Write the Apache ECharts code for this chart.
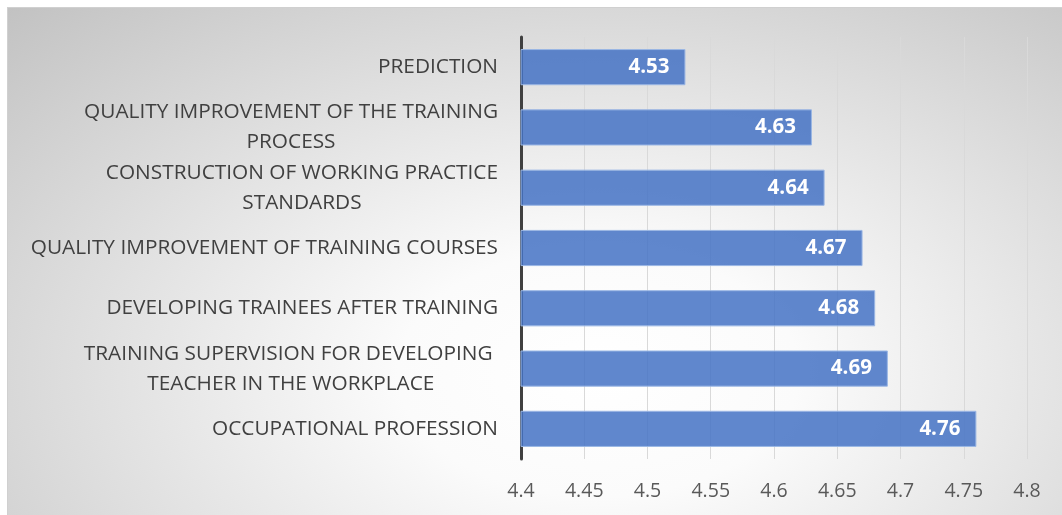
<!DOCTYPE html>
<html>
<head>
<meta charset="utf-8">
<script src="https://cdn.jsdelivr.net/npm/echarts@6/dist/echarts.min.js"></script>
<style>
  html, body { margin: 0; padding: 0; background: #fff; }
  #wrap {
    position: absolute; left: 7px; top: 7px; width: 1055px; height: 508px;
    border-top: 1px solid #d0d0d0; border-left: 1px solid #d0d0d0;
    box-sizing: border-box;
    background: radial-gradient(ellipse farthest-corner at 56% 72%, #ffffff 0%, #fbfbfb 24%, #c2c2c2 100%);
  }
  #chart { position: absolute; left: -8px; top: -8px; width: 1062px; height: 515px; }
</style>
</head>
<body>
<div id="wrap"><div id="chart"></div></div>
<script>
const categories = [
  'PREDICTION',
  'QUALITY IMPROVEMENT OF THE TRAINING\nPROCESS',
  'CONSTRUCTION OF WORKING PRACTICE\nSTANDARDS',
  'QUALITY IMPROVEMENT OF TRAINING COURSES',
  'DEVELOPING TRAINEES AFTER TRAINING',
  'TRAINING SUPERVISION FOR DEVELOPING \nTEACHER IN THE WORKPLACE',
  'OCCUPATIONAL PROFESSION'
];
const values = [4.53, 4.63, 4.64, 4.67, 4.68, 4.69, 4.76];
const xMin = 4.4, xMax = 4.8, xStep = 0.05;

const FONT = '"Open Sans", "Noto Sans", sans-serif';
const chart = echarts.init(document.getElementById('chart'), null, { renderer: 'canvas' });
chart.setOption({
  backgroundColor: 'transparent',
  animation: false,
  grid: { left: 521, right: 35, top: 37, bottom: 56, containLabel: false },
  xAxis: {
    type: 'value', min: xMin, max: xMax, interval: xStep,
    axisLine: { show: false }, axisTick: { show: false },
    splitLine: { show: true, lineStyle: { color: '#d9d9d9', width: 1 } },
    axisLabel: {
      color: '#595959', fontSize: 19.5, fontFamily: FONT, margin: 22,
      formatter: v => String(parseFloat(v.toFixed(2)))
    }
  },
  yAxis: {
    type: 'category', inverse: true, data: categories,
    axisLine: { show: true, lineStyle: { color: '#404040', width: 3 } },
    axisTick: { show: false },
    axisLabel: {
      margin: 23, align: 'right',
      formatter: v => v.split('\n').map(s => '{a|' + s + '}').join('\n'),
      rich: {
        a: { color: '#404040', fontSize: 20.8, fontFamily: FONT, align: 'center', lineHeight: 30 }
      }
    }
  },
  series: [{
    type: 'bar', data: values, barCategoryGap: '40%',
    itemStyle: { color: 'rgba(68,114,196,0.85)', borderColor: '#9bb7e4', borderWidth: 1 },
    label: {
      show: true, position: 'insideRight', distance: 16,
      color: '#ffffff', fontWeight: 'bold', fontSize: 20.5, fontFamily: FONT,
      formatter: p => p.value.toFixed(2)
    }
  }]
});
</script>
</body>
</html>
